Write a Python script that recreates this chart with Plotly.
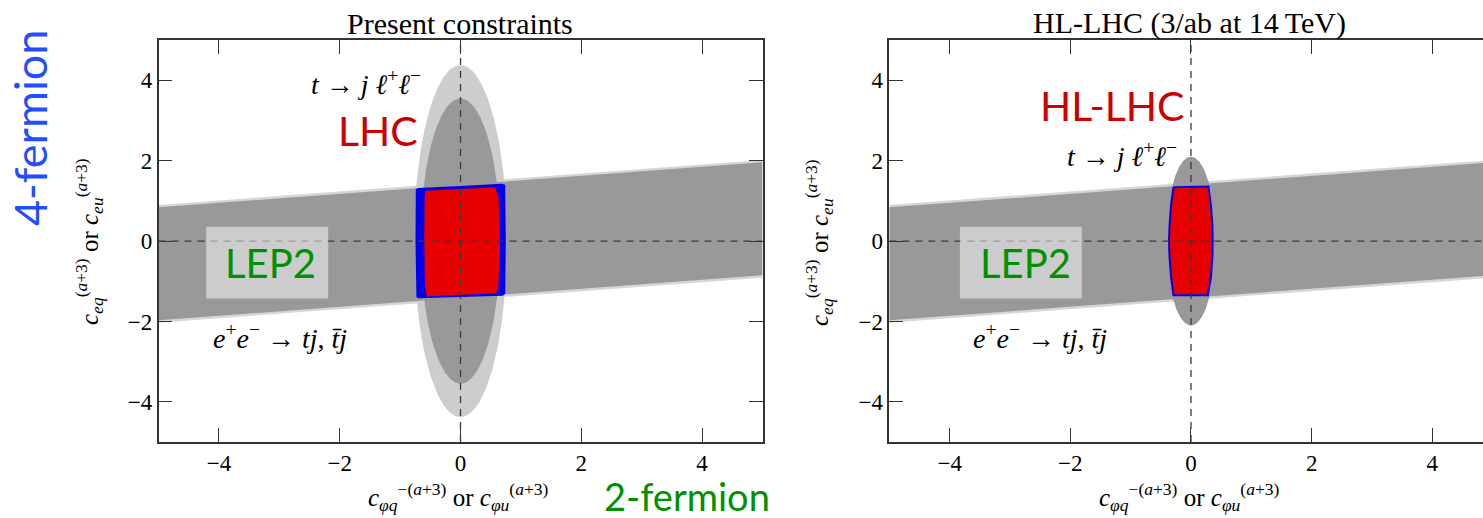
import numpy as np
import plotly.graph_objects as go

W, H = 1483, 518

# ---------------- data ----------------
tick_vals = [-4, -2, 0, 2, 4]
x_range_left = [-5, 5]
x_range_right = [-5, 4.84]
y_range = [-5, 5]

# LEP2 band edges at x = -5 and x = +5
band_x = [-5, 5]
band_upper = [0.84, 1.96]
band_lower = [-1.97, -0.85]
band_fringe = 0.06

# t -> j l+ l- ellipses: [semi-axis in x, semi-axis in y]
lhc_outer_axes = [0.77, 4.38]
lhc_inner_axes = [0.66, 3.55]
hl_axes = [0.41, 2.10]

# combined LHC region (left panel)
comb_blue_x = [-0.74, -0.70, 0.00, 0.68, 0.74, 0.75, 0.74, 0.70, 0.00, -0.70, -0.73, -0.745]
comb_blue_y = [1.29, 1.32, 1.37, 1.43, 1.40, 0.00, -1.31, -1.36, -1.39, -1.42, -1.39, 0.00]
comb_red_x = [-0.585, 0.00, 0.575, 0.63, 0.655, 0.63, 0.60, 0.00, -0.56, -0.59, -0.60, -0.595]
comb_red_y = [1.25, 1.30, 1.34, 1.10, 0.00, -1.10, -1.30, -1.34, -1.37, -1.10, 0.00, 1.10]

# combined HL-LHC region (right panel)
hl_x = [-0.29, 0.29, 0.33, 0.355, 0.36, 0.355, 0.33, 0.28, -0.29, -0.33, -0.355, -0.365, -0.355, -0.33]
hl_y = [1.34, 1.36, 0.90, 0.40, 0.00, -0.40, -0.90, -1.345, -1.345, -0.90, -0.40, 0.00, 0.40, 0.90]

# LEP2 label boxes [x0, x1, y0, y1]
lep_box_left = [-4.21, -2.19, -1.43, 0.36]
lep_box_right = [-3.83, -1.81, -1.43, 0.36]

# ---------------- helpers ----------------
GRAY_D = "#999999"
GRAY_L = "#cdcdcd"
FRINGE = "#d6d6d6"
RED = "#e60000"
BLUE = "#0000ee"
AX = "#333333"
SERIF = "Liberation Serif, DejaVu Serif, serif"
SANS = "Lato, Carlito, Open Sans, sans-serif"
NB = "\u00a0"

t = np.linspace(0, 2 * np.pi, 240)


def ellipse(axes):
    return axes[0] * np.cos(t), axes[1] * np.sin(t)


def band(extra):
    xs = [band_x[0], band_x[1], band_x[1], band_x[0]]
    ys = [band_upper[0] + extra, band_upper[1] + extra, band_lower[1] - extra, band_lower[0] - extra]
    return xs, ys


def poly(xs, ys, color, xa, ya, line_color=None, line_width=0):
    return go.Scatter(
        x=list(xs) + [xs[0]], y=list(ys) + [ys[0]], mode="lines", fill="toself",
        fillcolor=color, line=dict(color=line_color or color, width=line_width),
        xaxis=xa, yaxis=ya, hoverinfo="skip", showlegend=False)


fig = go.Figure()

# left panel
bx, by = band(band_fringe)
fig.add_trace(poly(bx, by, FRINGE, "x", "y"))
ex, ey = ellipse(lhc_outer_axes)
fig.add_trace(poly(ex, ey, GRAY_L, "x", "y"))
ex, ey = ellipse(lhc_inner_axes)
fig.add_trace(poly(ex, ey, GRAY_D, "x", "y"))
bx, by = band(0)
fig.add_trace(poly(bx, by, GRAY_D, "x", "y"))
fig.add_trace(poly(comb_blue_x, comb_blue_y, BLUE, "x", "y"))
fig.add_trace(poly(comb_red_x, comb_red_y, RED, "x", "y"))

# right panel
bx, by = band(band_fringe)
fig.add_trace(poly(bx, by, FRINGE, "x2", "y2"))
ex, ey = ellipse(hl_axes)
fig.add_trace(poly(ex, ey, GRAY_D, "x2", "y2"))
bx, by = band(0)
fig.add_trace(poly(bx, by, GRAY_D, "x2", "y2"))
fig.add_trace(poly(hl_x, hl_y, RED, "x2", "y2", line_color=BLUE, line_width=2))

# ---------------- axes ----------------
def px_x(p):
    return p / W


def px_y(p):
    return (H - p) / H


ydom = [px_y(442.0), px_y(40.2)]
common = dict(tickvals=tick_vals, ticks="inside", ticklen=14, tickwidth=1.3, tickcolor=AX,
              showline=True, linecolor=AX, linewidth=1.5, showgrid=False, zeroline=False,
              tickfont=dict(family=SERIF, size=23, color="black"))
fig.update_layout(
    xaxis=dict(domain=[px_x(158.5), px_x(762.5)], range=x_range_left, mirror="allticks",
               anchor="y", **common),
    yaxis=dict(domain=ydom, range=y_range, mirror="allticks", anchor="x", **common),
    xaxis2=dict(domain=[px_x(889.3), 1.0], range=x_range_right, mirror="allticks",
                anchor="y2", **common),
    yaxis2=dict(domain=ydom, range=y_range, mirror=False, anchor="x2", **common),
)

# dashed zero lines and LEP2 boxes
shapes = []
for xa, ya, xr in (("x", "y", x_range_left), ("x2", "y2", x_range_right)):
    shapes.append(dict(type="line", xref=xa, yref=ya, x0=0, x1=0, y0=y_range[0], y1=y_range[1],
                       line=dict(color="#3a3a3a", width=1.3, dash="7px,6px"), layer="above"))
    shapes.append(dict(type="line", xref=xa, yref=ya, x0=xr[0], x1=xr[1], y0=0, y1=0,
                       line=dict(color="#3a3a3a", width=1.3, dash="7px,6px"), layer="above"))
for xa, ya, b in (("x", "y", lep_box_left), ("x2", "y2", lep_box_right)):
    shapes.append(dict(type="rect", xref=xa, yref=ya, x0=b[0], x1=b[1], y0=b[2], y1=b[3],
                       fillcolor="rgba(255,255,255,0.5)", line=dict(width=0), layer="above"))

# ---------------- text ----------------
ann = []


def add(text, x, y, size, color="black", family=SERIF, xref="paper", yref="paper", angle=0):
    ann.append(dict(text=text, x=x, y=y, xref=xref, yref=yref, showarrow=False,
                    textangle=angle, xanchor="center", yanchor="middle",
                    font=dict(family=family, size=size, color=color)))


add("Present constraints", px_x(460), px_y(23), 30)
add("HL-LHC (3/ab at 14\u2009TeV)", px_x(1189), px_y(23), 30)

ylab = ("<i>c</i><sub><i>eq</i></sub><sup>(<i>a</i>+3)</sup>" + NB + "or" + NB +
        "<i>c</i><sub><i>eu</i></sub><sup>(<i>a</i>+3)</sup>")
xlab = ("<i>c</i><sub><i>\u03c6q</i></sub><sup>\u2212(<i>a</i>+3)</sup>" + NB + "or" + NB +
        "<i>c</i><sub><i>\u03c6u</i></sub><sup>(<i>a</i>+3)</sup>")
add(ylab, px_x(89), px_y(242), 25, angle=-90)
add(ylab, px_x(819), px_y(242), 25, angle=-90)
add(xlab, px_x(458), px_y(497), 25)
add(xlab, px_x(1189), px_y(497), 25)

tjll = ("<i>t</i>" + NB + "\u2192" + NB + "<i>j</i>" + NB +
        "<i>\u2113</i><sup>+</sup><i>\u2113</i><sup>\u2212</sup>")
eetj = ("<i>e</i><sup>+</sup><i>e</i><sup>\u2212</sup>" + NB + "\u2192" + NB +
        "<i>tj</i>," + NB + "<i>t\u0304j</i>")
add(tjll, -1.565, 3.95, 28, xref="x", yref="y")
add(tjll, -1.14, 2.16, 28, xref="x2", yref="y2")
add(eetj, -2.99, -2.38, 28, xref="x", yref="y")
add(eetj, -2.50, -2.38, 28, xref="x2", yref="y2")

add("LHC", -1.36, 2.75, 41, color="#cc0000", family=SANS, xref="x", yref="y")
add("HL-LHC", -1.31, 3.37, 41, color="#cc0000", family=SANS, xref="x2", yref="y2")
add("LEP2", -3.15, -0.55, 40, color="#009100", family=SANS, xref="x", yref="y")
add("LEP2", -2.75, -0.55, 40, color="#009100", family=SANS, xref="x2", yref="y2")

add("4-fermion", px_x(30), px_y(128), 45, color="#1f4fff", family=SANS, angle=-90)
add("2-fermion", px_x(687), px_y(495.5), 38, color="#009100", family=SANS)

fig.update_layout(width=W, height=H, margin=dict(l=0, r=0, t=0, b=0),
                  paper_bgcolor="white", plot_bgcolor="white",
                  shapes=shapes, annotations=ann, showlegend=False)

fig.write_html("out.html")
